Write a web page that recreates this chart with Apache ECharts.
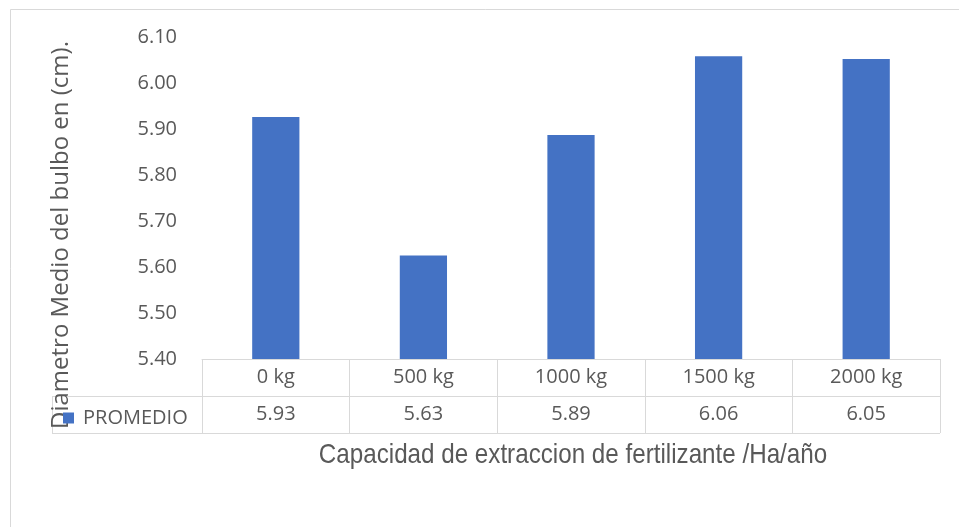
<!DOCTYPE html>
<html>
<head>
<meta charset="utf-8">
<script src="https://cdn.jsdelivr.net/npm/echarts@6/dist/echarts.min.js"></script>
<style>html,body{margin:0;padding:0;background:#fff}#c{width:959px;height:527px}</style>
</head>
<body>
<div id="c"></div>
<script>
const categories = ['0 kg', '500 kg', '1000 kg', '1500 kg', '2000 kg'];
const promedio = [5.926, 5.625, 5.887, 6.058, 6.052];
const tableValues = ['5.93', '5.63', '5.89', '6.06', '6.05'];
const seriesName = 'PROMEDIO';
const yTitle = 'Diametro Medio del bulbo en (cm).';
const xTitle = 'Capacidad de extraccion de fertilizante /Ha/año';

const FONT = '"Open Sans", "Liberation Sans", Arial, sans-serif';
const SANS = '"Liberation Sans", Arial, sans-serif';
const GRAY = '#d9d9d9';
const TXT = '#595959';
const L = 202, R = 940, T = 37, B = 359, ROW = 37;

const chart = echarts.init(document.getElementById('c'), null, {renderer: 'canvas'});
chart.setOption({
  animation: false,
  backgroundColor: '#fff',
  grid: {left: L, right: 959 - R, top: T, bottom: 527 - B, containLabel: false},
  legend: {
    data: [seriesName], left: 58, top: 403, icon: 'rect', itemWidth: 11, itemHeight: 11, itemGap: 0,
    textStyle: {fontFamily: FONT, fontSize: 20, color: TXT, padding: [0, 0, 0, 4]}
  },
  xAxis: {
    type: 'category', data: categories,
    axisLine: {show: true, lineStyle: {color: GRAY, width: 1}},
    axisTick: {show: true, length: ROW * 2, interval: 0, lineStyle: {color: GRAY}},
    axisLabel: {
      interval: 0, margin: 0,
      formatter: (v, i) => '{a|' + v + '}\n{a|' + tableValues[i] + '}',
      rich: {a: {fontFamily: FONT, fontSize: 20, color: TXT, lineHeight: ROW, height: ROW}}
    },
    splitLine: {show: false}
  },
  yAxis: {
    type: 'value', min: 5.4, max: 6.1, interval: 0.1,
    axisLine: {show: false}, axisTick: {show: false}, splitLine: {show: false},
    axisLabel: {margin: 25, fontFamily: FONT, fontSize: 20, color: TXT, formatter: v => v.toFixed(2)}
  },
  series: [{
    name: seriesName, type: 'bar', data: promedio, barWidth: '32%',
    itemStyle: {color: '#4472C4'}
  }],
  graphic: [
    {type: 'rect', shape: {x: 10.5, y: 9.5, width: 960, height: 530}, style: {fill: 'none', stroke: GRAY, lineWidth: 1}, silent: true},
    {type: 'line', shape: {x1: 52, y1: B + ROW + 0.5, x2: R, y2: B + ROW + 0.5}, style: {stroke: GRAY, lineWidth: 1}},
    {type: 'line', shape: {x1: 52, y1: B + 2 * ROW + 0.5, x2: R, y2: B + 2 * ROW + 0.5}, style: {stroke: GRAY, lineWidth: 1}},
    {type: 'line', shape: {x1: 52.5, y1: B + ROW, x2: 52.5, y2: B + 2 * ROW}, style: {stroke: GRAY, lineWidth: 1}},
    {type: 'text', x: 61, y: 235, rotation: Math.PI / 2, style: {text: yTitle, fontFamily: FONT, fontSize: 24, fill: TXT, align: 'center', verticalAlign: 'middle'}},
    {type: 'text', x: 573, y: 455, scaleX: 0.864, style: {text: xTitle, fontFamily: SANS, fontSize: 28, fill: TXT, align: 'center', verticalAlign: 'middle'}}
  ]
});
</script>
</body>
</html>
